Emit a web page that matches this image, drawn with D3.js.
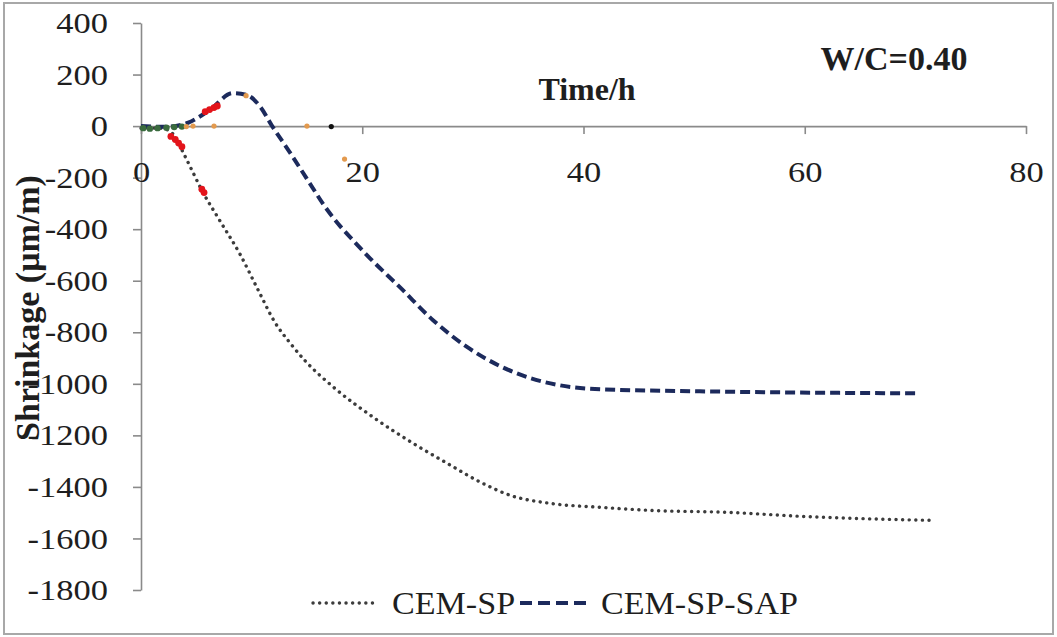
<!DOCTYPE html>
<html lang="en">
<head>
<meta charset="UTF-8">
<title>Shrinkage W/C=0.40</title>
<script src="https://cdnjs.cloudflare.com/ajax/libs/d3/7.9.0/d3.min.js"></script>
<style>
    body { margin: 0; background: #fff; }
    svg text { font-family: "Liberation Serif", "Times New Roman", serif; fill: #1e1e1e; }
    .axis path, .axis line { stroke: #8a8a8a; stroke-width: 1.6; }
    .axis text { font-family: "Liberation Serif", serif; font-size: 30px; transform-box: fill-box; }
    .y-axis text { transform-origin: right center; transform: scaleX(1.15); }
    .x-axis text { transform-origin: center; transform: scaleX(1.15); }
    .title { font-weight: bold; }
    .legend text { font-size: 31px; transform-box: fill-box; transform-origin: left center; transform: scaleX(1.1); }
</style>
</head>
<body>
<svg id="chart" width="1057" height="637"></svg>
<script>
const timeTicks = [0, 20, 40, 60, 80];
const shrinkTicks = [400, 200, 0, -200, -400, -600, -800, -1000, -1200, -1400, -1600, -1800];

// CEM-SP (dotted)
const cemSpTime  = [0, 1.7, 2.6, 3.1, 3.7, 4.6, 5.5, 7.1, 8.95, 10.6, 12.1, 13.5, 14.8, 17.4, 21.0, 24.6, 27.7, 30.7, 33.4, 37.0, 41.5, 46.0, 53.3, 59.6, 71.6];
const cemSpValue = [-8, -8, -19, -43, -93, -171, -249, -365, -497, -637, -761, -843, -909, -1013, -1130, -1231, -1309, -1382, -1433, -1464, -1479, -1491, -1499, -1514, -1530];

// CEM-SP-SAP (dashed)
const cemSapTime  = [0, 2.2, 4.2, 6.2, 8.3, 9.6, 10.8, 11.8, 13.5, 15.3, 16.6, 18.0, 19.4, 20.7, 23.4, 26.4, 29.5, 32.5, 35.2, 37.9, 41.5, 50.5, 70.4];
const cemSapValue = [0, -3, 12, 62, 128, 120, 74, 4, -105, -225, -311, -388, -454, -513, -625, -753, -858, -932, -978, -1006, -1021, -1029, -1037];

// stray coloured markers left over from other series
const redMarks    = [[2.7, -40], [3.1, -52], [3.4, -66], [3.7, -80], [5.5, -245], [5.7, -258], [5.8, 56], [6.2, 64], [6.6, 72], [6.9, 78]];
const greenMarks  = [[0.2, -8], [0.8, -10], [1.5, -8], [2.3, -6], [3.0, -4], [3.7, -2]];
const orangeMarks = [[4.1, -2], [4.7, 0], [6.6, 0], [9.5, 118], [15.0, 0], [18.4, -128]];
const blackMarks  = [[17.2, -2]];

const seriesNames = ['CEM-SP', 'CEM-SP-SAP'];

const svg = d3.select('#chart');

// outer frame
svg.append('rect')
    .attr('x', 4).attr('y', 3).attr('width', 1049).attr('height', 631)
    .attr('fill', 'none').attr('stroke', '#a8a8a8').attr('stroke-width', 2);

const x = d3.scaleLinear().domain([0, 80]).range([141, 1026]);
const y = d3.scaleLinear().domain([-1800, 400]).range([590, 23]);

svg.append('g')
    .attr('class', 'axis y-axis')
    .attr('transform', `translate(${x(0)},0)`)
    .call(d3.axisLeft(y).tickValues(shrinkTicks).tickFormat(d => String(d))
        .tickSize(8).tickSizeOuter(0).tickPadding(25))
    .attr('font-family', null).attr('font-size', null);

svg.append('g')
    .attr('class', 'axis x-axis')
    .attr('transform', `translate(0,${y(0)})`)
    .call(d3.axisBottom(x).tickValues(timeTicks).tickFormat(d => String(d))
        .tickSize(8).tickSizeOuter(0).tickPadding(27))
    .attr('font-family', null).attr('font-size', null);

const line = d3.line()
    .x(d => x(d[0]))
    .y(d => y(d[1]))
    .curve(d3.curveMonotoneX);

svg.append('path')
    .datum(d3.zip(cemSpTime, cemSpValue))
    .attr('d', line)
    .attr('fill', 'none')
    .attr('stroke', '#3c3c3c')
    .attr('stroke-width', 3.4)
    .attr('stroke-linecap', 'round')
    .attr('stroke-dasharray', '0.1 6.5');

svg.append('path')
    .datum(d3.zip(cemSapTime, cemSapValue))
    .attr('d', line)
    .attr('fill', 'none')
    .attr('stroke', '#1c2a5c')
    .attr('stroke-width', 4)
    .attr('stroke-dasharray', '10 5');

function marks(data, color, r) {
    svg.append('g').selectAll('circle').data(data).join('circle')
        .attr('cx', d => x(d[0]))
        .attr('cy', d => y(d[1]))
        .attr('r', r)
        .attr('fill', color);
}
marks(greenMarks, '#3a6b3e', 3.2);
marks(orangeMarks, '#e39a4e', 2.6);
marks(blackMarks, '#111', 2.6);
marks(redMarks, '#e3141b', 3.4);

// titles
svg.append('text').attr('class', 'title')
    .attr('x', 894).attr('y', 70)
    .attr('text-anchor', 'middle')
    .style('font-size', '34px')
    .text('W/C=0.40');

svg.append('text').attr('class', 'title')
    .attr('x', 587).attr('y', 100)
    .attr('text-anchor', 'middle')
    .style('font-size', '32px')
    .text('Time/h');

svg.append('text').attr('class', 'title')
    .attr('transform', 'translate(39,308) rotate(-90)')
    .attr('text-anchor', 'middle')
    .style('font-size', '34px')
    .text('Shrinkage (μm/m)');

// legend
const legend = svg.append('g').attr('class', 'legend');
legend.append('line')
    .attr('x1', 313).attr('x2', 378).attr('y1', 603).attr('y2', 603)
    .attr('stroke', '#3c3c3c').attr('stroke-width', 3.4)
    .attr('stroke-linecap', 'round').attr('stroke-dasharray', '0.1 6.5');
legend.append('text').attr('x', 392).attr('y', 614).text(seriesNames[0]);
legend.append('line')
    .attr('x1', 520).attr('x2', 590).attr('y1', 603).attr('y2', 603)
    .attr('stroke', '#1c2a5c').attr('stroke-width', 4).attr('stroke-dasharray', '12 6');
legend.append('text').attr('x', 601).attr('y', 614).text(seriesNames[1]);
</script>
</body>
</html>
